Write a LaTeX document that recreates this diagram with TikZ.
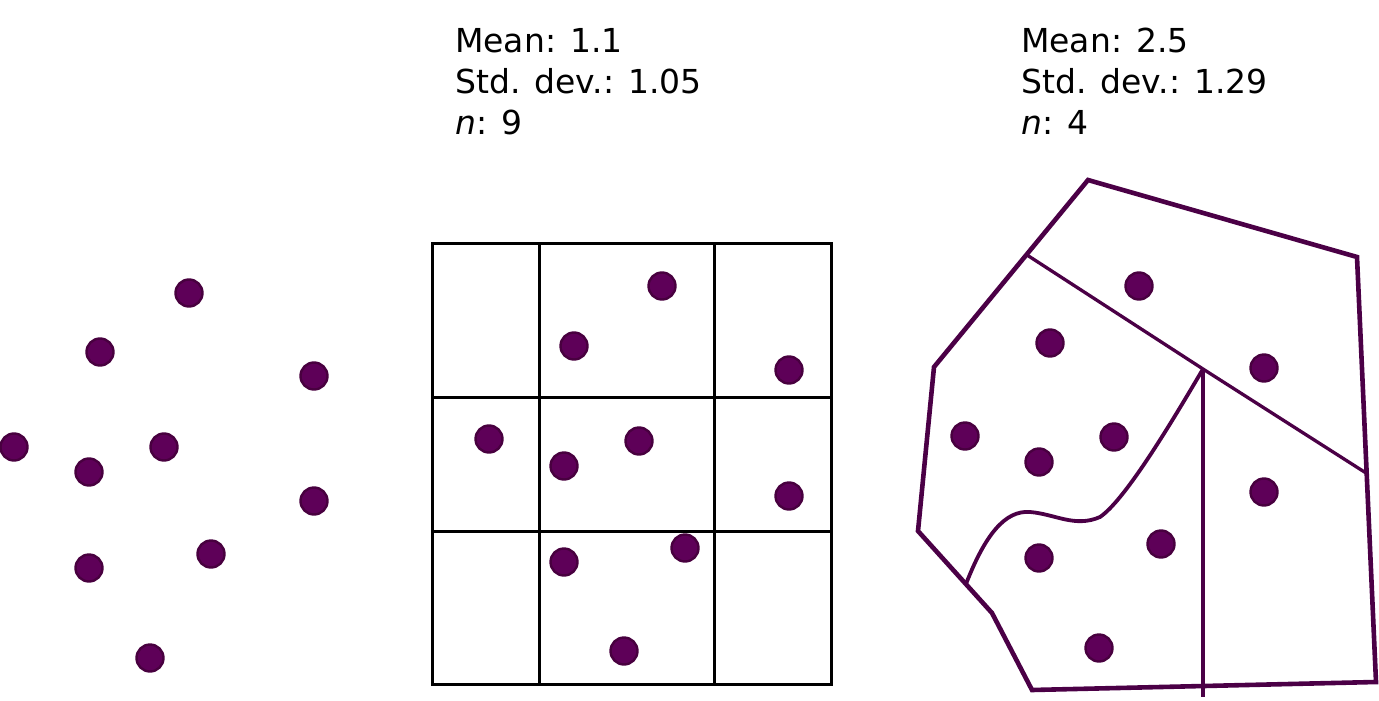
\documentclass[tikz,border=0pt]{standalone}
\usepackage{fontspec}
\setmainfont{DejaVu Sans}
\usetikzlibrary{positioning}

\definecolor{dotfill}{HTML}{5E0058}
\definecolor{dotrim}{HTML}{48003F}
\definecolor{zoneline}{HTML}{4B0046}

\begin{document}
\begin{tikzpicture}[
    x=1pt, y=-1pt,
    node font=\fontsize{33}{41}\selectfont,
    pdot/.style={circle, fill=dotfill, draw=dotrim, line width=2.4pt, inner sep=0pt, minimum size=27pt},
    grid line/.style={line width=3pt, black},
    zone edge/.style={line width=4.6pt, zoneline, line join=miter},
    zone cut/.style={line width=3.3pt, zoneline},
    stats/.style={anchor=north west, inner sep=0pt, align=left},
]
\useasboundingbox (0,0) rectangle (1379,701);

% === Raw points ===
\foreach \x/\y [count=\i] in {189/293, 100/352, 314/376, 14/447, 164/447,
                              89/472, 314/501, 211/554, 89/568, 150/658}
    \node[pdot] (raw\i) at (\x,\y) {};

% === Regular grid ===
\draw[grid line] (432,243) rectangle (831,684);
\draw[grid line] (539,243) -- (539,684);
\draw[grid line] (714,243) -- (714,684);
\draw[grid line] (432,397) -- (831,397);
\draw[grid line] (432,531) -- (831,531);

\foreach \x/\y [count=\i] in {662/286, 574/346, 789/370, 489/439, 639/441,
                              564/466, 789/496, 685/548, 564/562, 624/651}
    \node[pdot] (grid\i) at (\x,\y) {};

\node[stats] (gridstats) at (455,28) {Mean: 1.1\\Std. dev.: 1.05\\\textit{n}: 9};

% === Irregular zones ===
\coordinate (Z1) at (1088,180);
\coordinate (Z2) at (1357,257);
\coordinate (Z3) at (1376,682);
\coordinate (Z4) at (1032,690);
\coordinate (Z5) at (992,613);
\coordinate (Z6) at (918,531);
\coordinate (Z7) at (934,367);

\coordinate (cutA) at (1027,255);
\coordinate (cutB) at (1366,473);
\coordinate (knot) at (1203,369);
\coordinate (foot) at (1203,697);
\coordinate (curveA) at (966,584);

\draw[zone cut] (cutA) -- (knot) -- (cutB);
\draw[zone cut] (knot) -- (foot);
\draw[zone cut, line width=3.8pt] (curveA) .. controls (985,535) and (1005,510) .. (1030,512)
    .. controls (1055,514) and (1075,528) .. (1100,517)
    .. controls (1125,500) and (1170,425) .. (knot);
\draw[zone edge] (Z1) -- (Z2) -- (Z3) -- (Z4) -- (Z5) -- (Z6) -- (Z7) -- cycle;

\foreach \x/\y [count=\i] in {1139/286, 1050/343, 1264/368, 965/436, 1114/437,
                              1039/462, 1264/492, 1161/544, 1039/558, 1099/648}
    \node[pdot] (zone\i) at (\x,\y) {};

\node[stats] (zonestats) at (1021,28) {Mean: 2.5\\Std. dev.: 1.29\\\textit{n}: 4};

\end{tikzpicture}
\end{document}
